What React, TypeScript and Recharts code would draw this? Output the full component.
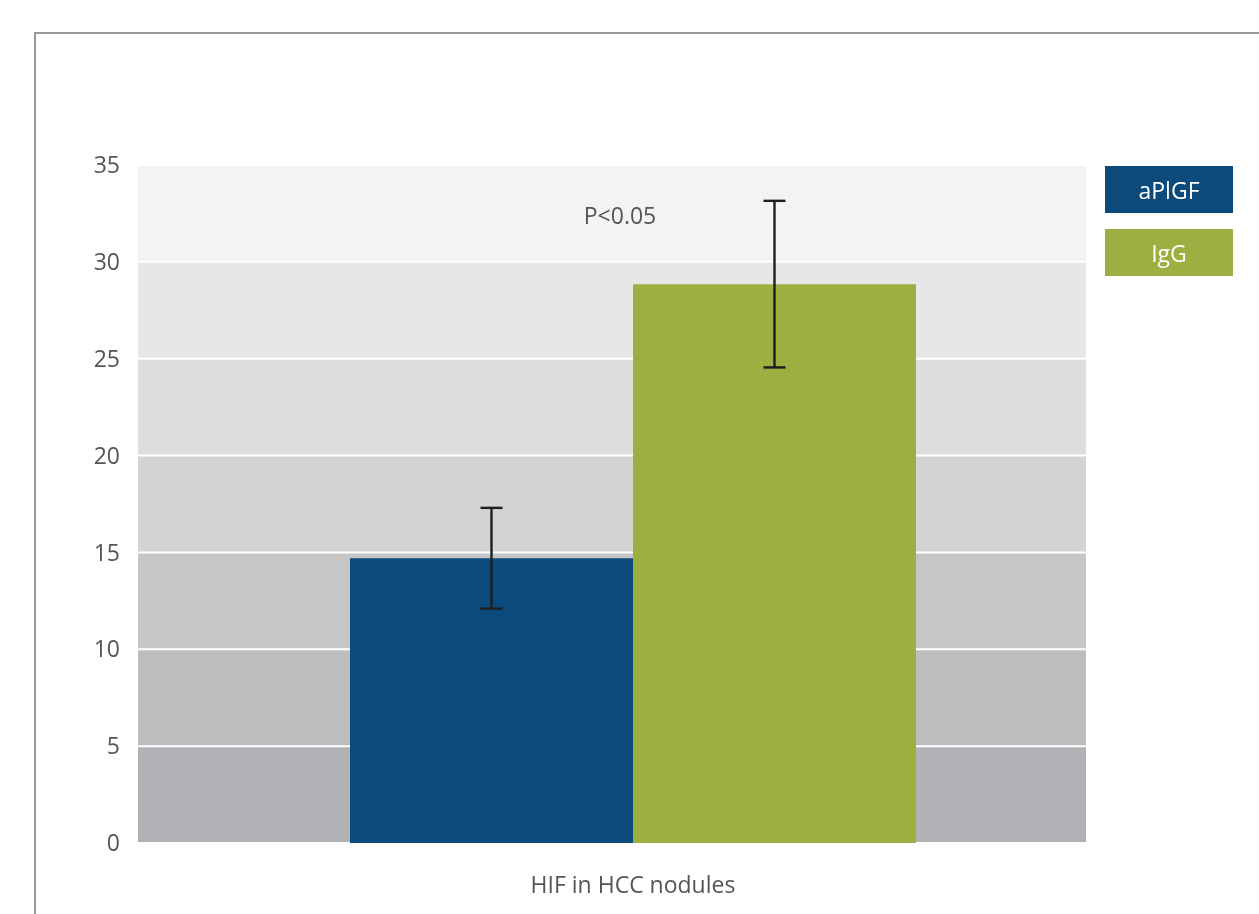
import React from "react";
import {
  BarChart,
  Bar,
  XAxis,
  YAxis,
  CartesianGrid,
  ErrorBar,
  Legend,
  ReferenceDot,
} from "recharts";

// Categories and series
const categories = ["HIF in HCC nodules"];
const aPlGFValues = [14.7];
const aPlGFErrors = [2.6];
const igGValues = [28.85];
const igGErrors = [4.3];
const yTicks = [0, 5, 10, 15, 20, 25, 30, 35];
const seriesNames = ["aPlGF", "IgG"];
const seriesColors = ["#0d4a7c", "#9caf41"];
const significanceLabel = "P<0.05";

// Band fills between gridlines, top band first
const bandFills = [
  "#f2f3f3",
  "#e7e7e8",
  "#dcdddf",
  "#d2d3d4",
  "#c6c6c7",
  "#bcbdbf",
  "#b1b2b5",
  "#b1b2b5",
];

const data = categories.map((name, i) => ({
  name,
  aPlGF: aPlGFValues[i],
  aPlGFErr: aPlGFErrors[i],
  IgG: igGValues[i],
  IgGErr: igGErrors[i],
}));

const FONT = "'Open Sans', 'Noto Sans', sans-serif";
const TEXT = "#555555";
const FS = 23;

const LegendBoxes = ({ payload }: any) => {
  const items = [...(payload || [])].sort(
    (a: any, b: any) => seriesNames.indexOf(a.value) - seriesNames.indexOf(b.value)
  );
  return (
    <div style={{ display: "flex", flexDirection: "column", gap: 16 }}>
      {items.map((p: any) => (
        <div
          key={p.value}
          style={{
            width: 128,
            height: 47,
            background: p.color,
            color: "#ffffff",
            fontFamily: FONT,
            fontSize: FS,
            display: "flex",
            alignItems: "center",
            justifyContent: "center",
          }}
        >
          {p.value}
        </div>
      ))}
    </div>
  );
};

export default function App() {
  return (
    <div style={{ position: "relative", width: 1251, height: 898, overflow: "hidden" }}>
      <div
        style={{
          position: "fixed",
          left: 34,
          top: 32,
          right: -20,
          bottom: -20,
          border: "2px solid #999999",
          pointerEvents: "none",
        }}
      />
      <BarChart
        width={1251}
        height={898}
        data={data}
        margin={{ top: 157, right: 45, bottom: 23, left: 70 }}
        barCategoryGap={170}
        barGap={0}
      >
        <CartesianGrid
          vertical={false}
          stroke="#ffffff"
          strokeWidth={2}
          horizontalFill={bandFills}
          fillOpacity={1}
        />
        <XAxis
          dataKey="name"
          padding={{ left: 42, right: 0 }}
          axisLine={false}
          tickLine={false}
          height={40}
          tickMargin={28}
          tick={{ fill: TEXT, fontSize: FS, fontFamily: FONT }}
        />
        <YAxis
          domain={[0, 35]}
          ticks={yTicks}
          interval={0}
          width={60}
          axisLine={false}
          tickLine={false}
          tickSize={6}
          tickMargin={12}
          tick={{ fill: TEXT, fontSize: FS, fontFamily: FONT }}
        />
        <Legend
          layout="vertical"
          align="right"
          verticalAlign="top"
          content={<LegendBoxes />}
          wrapperStyle={{ position: "absolute", left: 1097, top: 158, width: 128 }}
        />
        <Bar dataKey="aPlGF" name={seriesNames[0]} fill={seriesColors[0]} isAnimationActive={false}>
          <ErrorBar dataKey="aPlGFErr" width={11} stroke="#1e1e1e" strokeWidth={2.4} isAnimationActive={false} />
        </Bar>
        <Bar dataKey="IgG" name={seriesNames[1]} fill={seriesColors[1]} isAnimationActive={false}>
          <ErrorBar dataKey="IgGErr" width={11} stroke="#1e1e1e" strokeWidth={2.4} isAnimationActive={false} />
        </Bar>
        <ReferenceDot
          x={categories[0]}
          y={32.4}
          r={0}
          fill="none"
          stroke="none"
          label={{ value: significanceLabel, fill: TEXT, fontSize: FS, fontFamily: FONT, dx: -13 }}
        />
      </BarChart>
    </div>
  );
}
